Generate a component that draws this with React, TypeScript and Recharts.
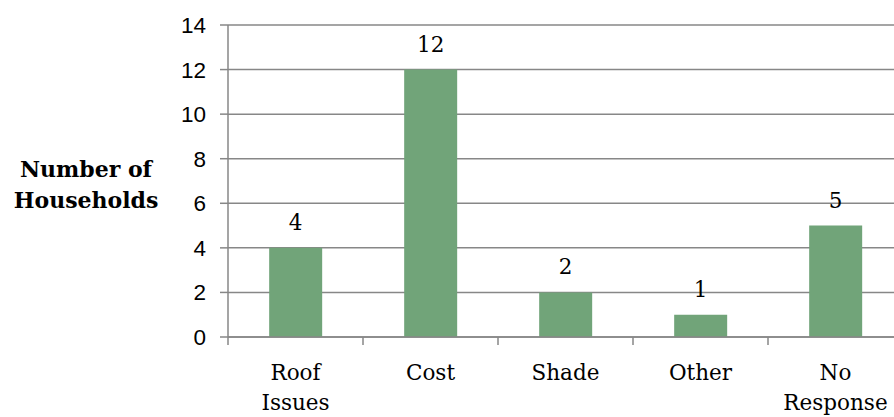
import React from 'react';
import { BarChart, Bar, XAxis, YAxis, CartesianGrid, LabelList, Label } from 'recharts';

const categories = ['Roof\nIssues', 'Cost', 'Shade', 'Other', 'No\nResponse'];
const households = [4, 12, 2, 1, 5];
const yTicks = [0, 2, 4, 6, 8, 10, 12, 14];

const data = categories.map((c, i) => ({ name: c, value: households[i] }));

const GRID = '#878787';
const SERIF = '"DejaVu Serif", serif';

const CatTick = (props: any) => {
  const { x, y, payload, index, visibleTicksCount } = props;
  const off = payload.offset || 0;
  const lines = String(payload.value).split('\n');
  return (
    <g>
      <line x1={x - off} x2={x - off} y1={y} y2={y + 8} stroke={GRID} strokeWidth={1.5} />
      {index === visibleTicksCount - 1 && (
        <line x1={x + off} x2={x + off} y1={y} y2={y + 8} stroke={GRID} strokeWidth={1.5} />
      )}
      <text x={x} y={y} textAnchor="middle" fontFamily={SERIF} fontSize={21.5} fill="#000">
        {lines.map((l, i) => (
          <tspan key={i} x={x} dy={i === 0 ? 43 : 30}>{l}</tspan>
        ))}
      </text>
    </g>
  );
};

const YLabel = (props: any) => {
  const { viewBox } = props;
  const cx = viewBox.x - 82;
  const cy = viewBox.y + viewBox.height / 2;
  return (
    <text x={cx} y={cy} textAnchor="middle" fontFamily={SERIF} fontWeight="bold" fontSize={22} fill="#000">
      <tspan x={cx} dy={-4}>Number of</tspan>
      <tspan x={cx} dy={31}>Households</tspan>
    </text>
  );
};

export default function App() {
  return (
    <div style={{ position: 'absolute', left: 0, top: 0, width: 894, height: 417, overflow: 'hidden', background: '#fff' }}>
      <BarChart
        width={908}
        height={417}
        data={data}
        margin={{ top: 25, right: 5, bottom: 0, left: 168 }}
        barCategoryGap="30.5%"
      >
        <CartesianGrid vertical={false} stroke={GRID} strokeWidth={1.5} />
        <XAxis
          dataKey="name"
          height={80}
          interval={0}
          tickLine={false}
          tickSize={0}
          tickMargin={0}
          axisLine={{ stroke: GRID, strokeWidth: 1.5 }}
          tick={<CatTick />}
        />
        <YAxis
          width={60}
          domain={[0, 14]}
          ticks={yTicks}
          interval={0}
          tickSize={8}
          tickMargin={14}
          axisLine={{ stroke: GRID, strokeWidth: 1.5 }}
          tickLine={{ stroke: GRID, strokeWidth: 1.5 }}
          tick={{ fill: '#000', fontSize: 22.5, fontFamily: '"Liberation Sans", Arial, sans-serif' }}
        >
          <Label content={<YLabel />} />
        </YAxis>
        <Bar dataKey="value" fill="#71A479" isAnimationActive={false}>
          <LabelList dataKey="value" position="top" offset={18} fill="#000" fontSize={21.5} fontFamily={SERIF} />
        </Bar>
      </BarChart>
    </div>
  );
}
